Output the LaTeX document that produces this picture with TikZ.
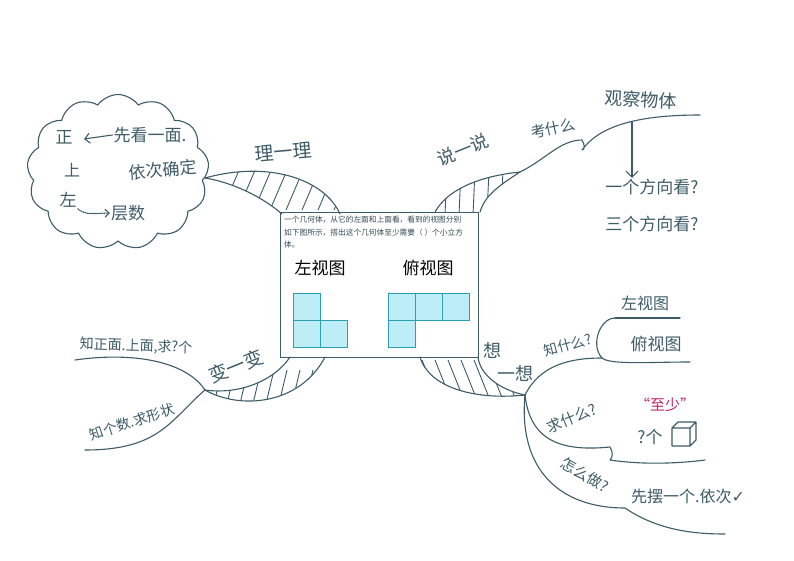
\documentclass[tikz,border=0pt]{standalone}
\usepackage{fontspec}
\newfontfamily\cjk{Noto Sans CJK SC}
\newfontfamily\djsym{DejaVu Sans}
\usetikzlibrary{shapes.symbols,arrows.meta}
\definecolor{ink}{HTML}{3E5C68}
\definecolor{cellf}{HTML}{BDEEF8}
\definecolor{celld}{HTML}{2A9FB3}
\definecolor{mag}{HTML}{C0246A}
\tikzset{
 pen/.style={draw=ink,line width=1.1pt,line cap=round,line join=round},
 hand/.style={text=ink,font=\cjk,inner sep=1pt},
 cell/.style={draw=celld,fill=cellf,line width=1pt},
 hatch/.style={draw=ink,line width=0.9pt}
}
\begin{document}
\begin{tikzpicture}[x=1pt,y=-1pt]
\useasboundingbox[fill=white] (0,0) rectangle (794,561);
% wedges with hatching
\begin{scope}
\clip (205,178) .. controls (270,160) and (325,180) .. (340,214) -- (282,214) .. controls (260,195) and (230,182) .. (205,178);
\foreach \i in {0,...,7}{\draw[hatch] (222+\i*16,210) -- (240+\i*16,168);}
\end{scope}
\draw[pen] (205,178) .. controls (270,160) and (325,180) .. (340,214);
\draw[pen] (205,178) .. controls (230,182) and (260,195) .. (282,214);
\begin{scope}
\clip (435,212) .. controls (450,185) and (490,175) .. (520,172) .. controls (500,185) and (485,195) .. (480,212) -- cycle;
\foreach \i in {0,...,5}{\draw[hatch] (445+\i*14,215) -- (447+\i*14,170);}
\end{scope}
\draw[pen] (435,212) .. controls (450,185) and (490,175) .. (520,172);
\draw[pen] (480,212) .. controls (485,195) and (500,185) .. (520,172);
\draw[pen] (520,172) .. controls (545,160) and (560,140) .. (582,140) .. controls (585,145) and (585,150) .. (582,150) .. controls (600,125) and (640,115) .. (700,115);
% bottom-left wedge
\begin{scope}
\clip (205,390) .. controls (240,395) and (275,380) .. (290,357) -- (325,357) .. controls (300,405) and (240,410) .. (205,390);
\foreach \i in {0,...,8}{\draw[hatch] (212+\i*13,412) -- (222+\i*13,370);}
\end{scope}
\draw[pen] (205,390) .. controls (240,395) and (275,380) .. (290,357);
\draw[pen] (205,390) .. controls (240,410) and (300,405) .. (325,357);
\draw[pen] (205,390) .. controls (185,360) and (130,352) .. (75,360);
\draw[pen] (205,390) .. controls (170,420) and (160,450) .. (85,450);
% bottom-right wedge
\begin{scope}
\clip (420,357) .. controls (430,390) and (480,400) .. (525,395) .. controls (500,390) and (480,375) .. (478,357) -- cycle;
\foreach \i in {0,...,6}{\draw[hatch] (422+\i*13,360) -- (440+\i*13,405);}
\end{scope}
\draw[pen] (420,357) .. controls (430,390) and (480,400) .. (525,395);
\draw[pen] (478,357) .. controls (480,375) and (500,390) .. (525,395);
\draw[pen] (525,395) .. controls (540,365) and (570,358) .. (602,358);
\draw[pen] (615,318) .. controls (600,318) and (590,345) .. (602,358) .. controls (610,365) and (650,362) .. (690,362);
\draw[pen] (615,318) -- (680,318);
\draw[pen] (525,395) .. controls (530,440) and (560,452) .. (610,447) .. controls (613,452) and (613,457) .. (610,460) .. controls (650,466) and (690,462) .. (705,460);
\draw[pen] (525,395) .. controls (518,470) and (560,508) .. (625,508) .. controls (660,532) and (700,534) .. (725,534);
% central box
\node[draw=ink,line width=1.2pt,minimum width=198pt,minimum height=145pt,anchor=north west,inner sep=0pt] (box) at (280,212) {};
\node[hand,font=\cjk\fontsize{7.7}{12.5}\selectfont,text=ink!80!black,anchor=north west,align=left] (q) at (283,215) {一个几何体，从它的左面和上面看，看到的视图分别\\如下图所示，搭出这个几何体至少需要（ ）个小立方\\体。};
\node[font=\cjk\fontsize{17}{17}\selectfont] (lv) at (320,268) {左视图};
\node[font=\cjk\fontsize{17}{17}\selectfont] (tv) at (428,268) {俯视图};
\draw[cell] (293,293) rectangle (320,320);
\draw[cell] (293,320) rectangle (320,347);
\draw[cell] (320,320) rectangle (347,347);
\draw[cell] (388,293) rectangle (415,320);
\draw[cell] (415,293) rectangle (442,320);
\draw[cell] (442,293) rectangle (469,320);
\draw[cell] (388,320) rectangle (415,347);
% cloud
\node[cloud,cloud puffs=13,cloud puff arc=110,pen,minimum width=182pt,minimum height=155pt,aspect=1.2] (cl) at (118,172) {};
\node[hand,font=\cjk\fontsize{17}{17}\selectfont] (z) at (64,137) {正};
\node[hand,font=\cjk\fontsize{17}{17}\selectfont] (xk) at (150,135) {先看一面.};
\draw[pen,-{Straight Barb[length=5pt]}] (xk.west) -- (84,139);
\node[hand,font=\cjk\fontsize{16}{16}\selectfont] (s) at (72,170) {上};
\node[hand,font=\cjk\fontsize{17}{17}\selectfont,rotate=5] (yc) at (163,170) {依次确定};
\node[hand,font=\cjk\fontsize{17}{17}\selectfont] (zu) at (68,200) {左};
\node[hand,font=\cjk\fontsize{17}{17}\selectfont] (cs) at (128,213) {层数};
\draw[pen,densely dotted,-{Straight Barb[length=4pt]}] (zu.south east) .. controls (85,214) .. (cs.west);
% labels
\node[hand,font=\cjk\fontsize{19}{19}\selectfont,rotate=5] (l1) at (283,152) {理一理};
\node[hand,font=\cjk\fontsize{18}{18}\selectfont,rotate=22] (l2) at (463,150) {说一说};
\node[hand,font=\cjk\fontsize{15}{15}\selectfont,rotate=12] (k) at (553,128) {考什么};
\node[hand,font=\cjk\fontsize{18}{18}\selectfont,rotate=-3] (gc) at (641,100) {观察物体};
\node[hand,font=\cjk\fontsize{17}{17}\selectfont] (y1) at (652,187) {一个方向看?};
\node[hand,font=\cjk\fontsize{17}{17}\selectfont] (y3) at (652,224) {三个方向看?};
\draw[pen,-{Straight Barb[length=6pt]}] (632,122) -- (y1.north -| 632,0);
\node[hand,font=\cjk\fontsize{19}{19}\selectfont,rotate=22] (l3) at (236,366) {变一变};
\node[hand,font=\cjk\fontsize{14}{14}\selectfont,rotate=-2] (b1) at (136,346) {知正面.上面,求?个};
\node[hand,font=\cjk\fontsize{14}{14}\selectfont,rotate=18] (b2) at (132,422) {知个数.求形状};
\node[hand,font=\cjk\fontsize{18}{18}\selectfont] (l4a) at (492,350) {想};
\node[hand,font=\cjk\fontsize{18}{18}\selectfont] (l4b) at (515,373) {一想};
\node[hand,font=\cjk\fontsize{14}{14}\selectfont,rotate=15] (w1) at (568,345) {知什么?};
\node[hand,font=\cjk\fontsize{16}{16}\selectfont] (w1a) at (645,303) {左视图};
\node[hand,font=\cjk\fontsize{17}{17}\selectfont] (w1b) at (656,344) {俯视图};
\node[hand,font=\cjk\fontsize{15}{15}\selectfont,rotate=22] (w2) at (572,418) {求什么?};
\node[hand,text=mag,font=\cjk\fontsize{15}{15}\selectfont] (zs) at (665,405) {“至少”};
\node[hand,font=\cjk\fontsize{17}{17}\selectfont] (qg) at (650,437) {?个};
\draw[pen] (672,428) rectangle (690,446) (672,428) -- (678,422) -- (696,422) -- (696,440) -- (690,446) (690,428) -- (696,422);
\node[hand,font=\cjk\fontsize{15}{15}\selectfont,rotate=-30] (w3) at (585,475) {怎么做?};
\node[hand,font=\cjk\fontsize{16}{16}\selectfont] (w3a) at (688,496) {先摆一个.依次{\djsym ✓}};
\end{tikzpicture}
\end{document}
